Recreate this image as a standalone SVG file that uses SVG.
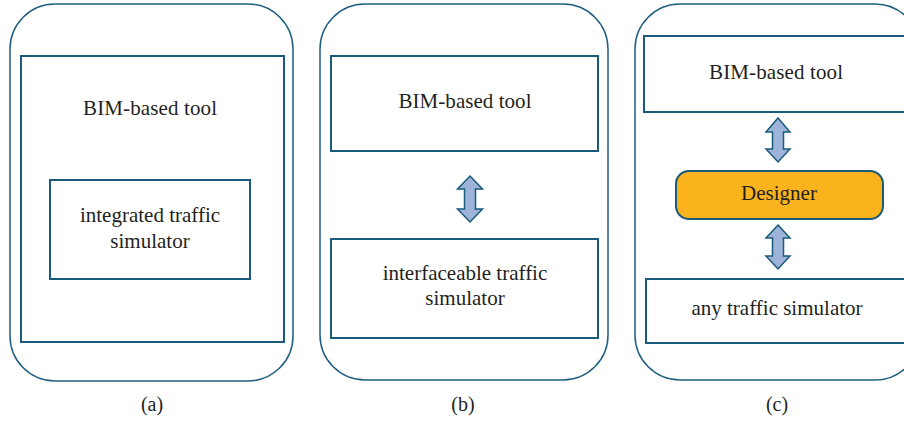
<svg xmlns="http://www.w3.org/2000/svg" width="904" height="423" viewBox="0 0 904 423">
<style>
.outer{fill:#fff;stroke:#1f5f80;stroke-width:1.5}
.box{fill:#fff;stroke:#1a5a7a;stroke-width:2}
.des{fill:#fbb31d;stroke:#1a5a7a;stroke-width:2}
.arr{fill:#9db3d8;stroke:#1a5a7a;stroke-width:1.5;stroke-linejoin:miter}
text{font-family:"Liberation Serif","Times New Roman",serif;font-size:21px;fill:#231f20;text-anchor:middle}
.cap{font-size:20px}
</style>
<rect width="904" height="423" fill="#fff"/>
<g id="panel-a">
<rect class="outer" x="10" y="4" width="283" height="377" rx="45" ry="45"/>
<g id="a-bim"><rect class="box" x="21" y="56" width="263" height="286"/>
<text x="150" y="115" textLength="134" lengthAdjust="spacing">BIM-based tool</text></g>
<g id="a-sim"><rect class="box" x="50" y="180" width="200" height="99"/>
<text x="150" y="222">integrated traffic</text><text x="150" y="248">simulator</text></g>
<text class="cap" x="152" y="411">(a)</text>
</g>
<g id="panel-b">
<rect class="outer" x="320" y="4" width="288" height="376" rx="45" ry="45"/>
<g id="b-bim"><rect class="box" x="331" y="56" width="267" height="95"/>
<text x="465" y="108" textLength="133" lengthAdjust="spacing">BIM-based tool</text></g>
<g id="b-sim"><rect class="box" x="331" y="239" width="267" height="99"/>
<text x="465" y="280">interfaceable traffic</text><text x="465" y="305">simulator</text></g>
<text class="cap" x="463" y="411">(b)</text>
</g>
<g id="panel-c">
<rect class="outer" x="635" y="4" width="285" height="376" rx="45" ry="45"/>
<g id="c-bim"><rect class="box" x="644" y="36" width="264" height="76"/>
<text x="776" y="79" textLength="134" lengthAdjust="spacing">BIM-based tool</text></g>
<g id="c-designer"><rect class="des" x="676" y="171" width="207" height="48" rx="13" ry="13"/>
<text x="779" y="200">Designer</text></g>
<g id="c-sim"><rect class="box" x="646" y="279" width="264" height="64"/>
<text x="777" y="315">any traffic simulator</text></g>
<text class="cap" x="777" y="411">(c)</text>
</g>
<g id="connectors">
<path class="arr" d="M470,176 L482.5,189 L475.5,189 L475.5,209 L482.5,209 L470,222 L457.5,209 L464.5,209 L464.5,189 L457.5,189 Z"/>
<path class="arr" d="M778,118 L790,132 L783.5,132 L783.5,149 L790,149 L778,162 L766,149 L772.5,149 L772.5,132 L766,132 Z"/>
<path class="arr" d="M778,225 L790,238 L783.5,238 L783.5,256 L790,256 L778,269 L766,256 L772.5,256 L772.5,238 L766,238 Z"/>
</g>
</svg>
